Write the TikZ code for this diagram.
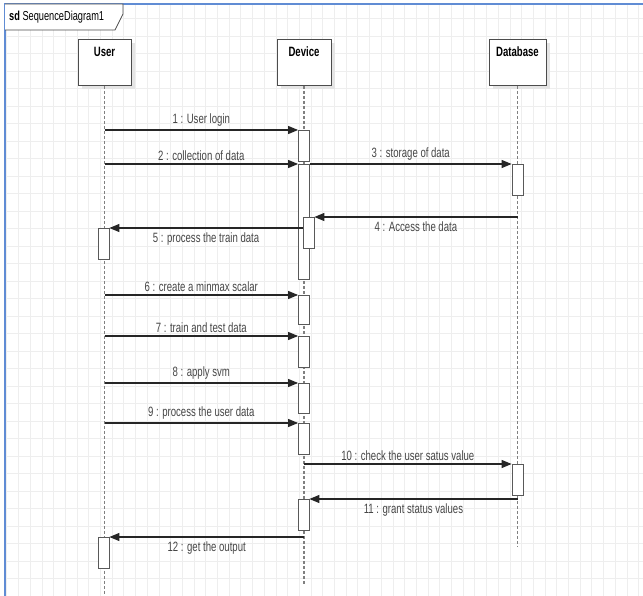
\documentclass[tikz,border=0pt]{standalone}
\usepackage{fontspec}
\setmainfont[FakeStretch=0.71]{Liberation Sans}
\usetikzlibrary{arrows.meta,shadows}
\definecolor{frameblue}{RGB}{96,140,212}
\definecolor{gridgray}{RGB}{238,238,238}
\definecolor{txtgray}{RGB}{70,70,70}
\tikzset{
  head/.style={draw=black!70, fill=white, line width=0.9pt, minimum width=#1,
    inner xsep=0pt, inner ysep=3pt, text height=14pt, text depth=26pt,
    font=\fontsize{13.5}{15}\selectfont\bfseries,
    drop shadow={shadow xshift=4pt, shadow yshift=-4pt, fill=black!10, opacity=1}},
  life/.style={draw=black!50, line width=1.1pt, dash pattern=on 3pt off 2pt},
  act/.style={draw=black!65, fill=white, line width=0.8pt, minimum width=11pt,
    minimum height=#1, inner sep=0pt, anchor=north},
  msg/.style={draw=black!85, line width=1.1pt, -{Triangle[length=10pt,width=8pt]}},
  lbl/.style={text=txtgray, font=\fontsize{13.5}{15}\selectfont, inner sep=1pt}
}
\begin{document}
\begin{tikzpicture}[x=1pt,y=-1pt]
    \useasboundingbox (0,0) rectangle (643,596);
    % Fondo cuadriculado
    \foreach \gx in {6.8,18.5,...,643} \draw[gridgray,line width=0.8pt] (\gx,4) -- (\gx,596);
    \foreach \gy in {18.5,36,...,596} \draw[gridgray,line width=0.8pt] (5,\gy) -- (643,\gy);
    % Marco
    \draw[frameblue,line width=2pt] (5,596) -- (5,4) -- (643,4);
    \draw[draw=black!70,fill=white,line width=0.8pt] (5,4) -- (123,4) -- (123,14) -- (115,30) -- (5,30);
    \node[anchor=west,inner sep=0pt,font=\fontsize{13}{15}\selectfont] (sdname) at (9,17) {\textbf{sd} SequenceDiagram1};
    % Cabeceras
    \node[head=53pt] (user) at (104.5,62.5) {User};
    \node[head=54pt] (dev) at (304,62.5) {Device};
    \node[head=57pt] (db) at (517.5,62.5) {Database};
    % Lineas de vida
    \draw[life] (user.south) -- ++(0,512);
    \draw[life] (dev.south) -- ++(0,499);
    \draw[life] (db.south) -- ++(0,461);
    % Activaciones
    \node[act=31pt] (d1) at (304,130) {};
    \node[act=115pt] (d2) at (304,164) {};
    \node[act=31pt] (d3) at (308.5,217) {};
    \node[act=31pt] (db1) at (517.5,164) {};
    \node[act=31pt] (u1) at (103.5,228) {};
    \node[act=29pt] (d4) at (304,295) {};
    \node[act=31pt] (d5) at (304,336) {};
    \node[act=30pt] (d6) at (304,383) {};
    \node[act=31pt] (d7) at (304,423) {};
    \node[act=31pt] (db2) at (517.5,464) {};
    \node[act=31pt] (d8) at (303.5,499) {};
    \node[act=31pt] (u2) at (103.5,537) {};
    % Mensajes
    \draw[msg] (user |- d1.north) -- node[lbl,above=2pt] {1 : User login} (d1.north west);
    \draw[msg] (user |- d2.north) -- node[lbl,above=2pt] {2 : collection of data} (d2.north west);
    \draw[msg] (d2.north east) -- node[lbl,above=2pt] {3 : storage of data} (db1.north west);
    \draw[msg] (db |- d3.north) -- node[lbl,below=3.5pt] {4 : Access the data} (d3.north east);
    \draw[msg] (d3.west |- u1.north) -- node[lbl,below=3pt] {5 : process the train data} (u1.north east);
    \draw[msg] (user |- d4.north) -- node[lbl,above=2pt] {6 : create a minmax scalar} (d4.north west);
    \draw[msg] (user |- d5.north) -- node[lbl,above=2pt] {7 : train and test data} (d5.north west);
    \draw[msg] (user |- d6.north) -- node[lbl,above=2pt] {8 : apply svm} (d6.north west);
    \draw[msg] (user |- d7.north) -- node[lbl,above=2pt] {9 : process the user data} (d7.north west);
    \draw[msg] (dev |- db2.north) -- node[lbl,above=2pt] {10 : check the user satus value} (db2.north west);
    \draw[msg] (db |- d8.north) -- node[lbl,below=3.5pt] {11 : grant status values} (d8.north east);
    \draw[msg] (dev |- u2.north) -- node[lbl,below=3.5pt] {12 : get the output} (u2.north east);
\end{tikzpicture}
\end{document}
